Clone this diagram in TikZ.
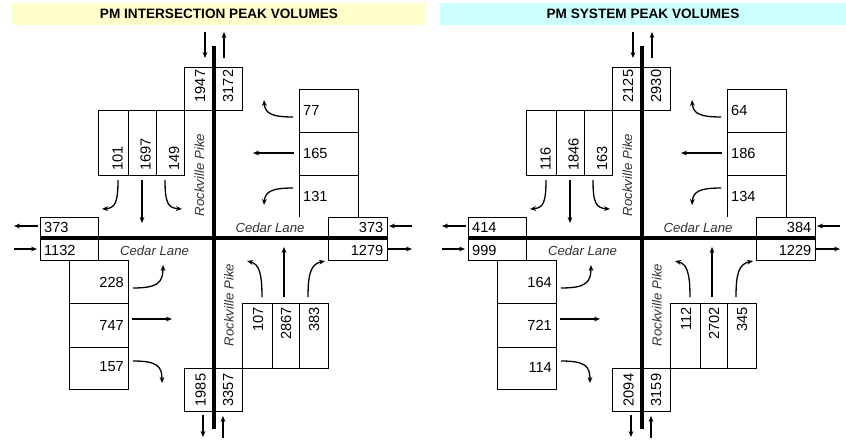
\documentclass[tikz,border=0pt]{standalone}
\usepackage{fontspec}
\setmainfont{Liberation Sans}
\usetikzlibrary{arrows.meta}
\definecolor{titleyellow}{RGB}{255,255,204}
\definecolor{titlecyan}{RGB}{204,255,255}
\tikzset{
  road/.style={line width=3.4pt},
  box/.style={line width=0.9pt},
  flow/.style={line width=1.3pt,-{Stealth[length=6pt,width=4.8pt]}},
  num/.style={inner sep=0pt,font=\fontsize{14.6}{14.6}\selectfont},
  vnum/.style={num,rotate=90},
  street/.style={inner sep=0pt,font=\fontsize{13.2}{13.2}\selectfont\itshape,text=black!80},
  ttl/.style={inner sep=0pt,font=\fontsize{13.6}{13.6}\selectfont\bfseries}
}
\newcommand\intpanel{%
  % roads
  \coordinate (rN) at (214,46); \coordinate (rS) at (214,429);
  \coordinate (rW) at (40,238); \coordinate (rE) at (387,238);
  \draw[road] (rN) -- (rS);
  \draw[road] (rW) -- (rE);
  % north leg totals
  \draw[box] (184,110) rectangle (242,67);
  \node[vnum] (nIn) at (200,86) {\vNin};
  \node[vnum] (nOut) at (228,86) {\vNout};
  \coordinate (a1) at (205,32); \coordinate (a2) at (205,58);
  \coordinate (a3) at (224,58); \coordinate (a4) at (224,32);
  \draw[flow] (a1) -- (a2);
  \draw[flow] (a3) -- (a4);
  % southbound lanes
  \draw[box] (98,110) rectangle (184,175);
  \draw[box] (128,110) -- (128,175) (156,110) -- (156,175);
  \node[vnum,anchor=west] (sbL) at (117.5,171) {\vSBL};
  \node[vnum,anchor=west] (sbT) at (145.5,171) {\vSBT};
  \node[vnum,anchor=west] (sbR) at (174,171) {\vSBR};
  \coordinate (b1) at (118,180); \coordinate (b2) at (102,209);
  \draw[flow] (b1) .. controls (118,203) and (115,208) .. (b2);
  \coordinate (b3) at (142,180); \coordinate (b4) at (142,223);
  \draw[flow] (b3) -- (b4);
  \coordinate (b5) at (165,180); \coordinate (b6) at (182,209);
  \draw[flow] (b5) .. controls (165,203) and (168,208) .. (b6);
  % westbound lanes
  \draw[box] (299,217) -- (299,89) -- (358,89) -- (358,217);
  \draw[box] (299,132) -- (358,132) (299,175) -- (358,175);
  \node[num,anchor=west] (wbR) at (303,110) {\vWBR};
  \node[num,anchor=west] (wbT) at (303,153) {\vWBT};
  \node[num,anchor=west] (wbL) at (303,196) {\vWBL};
  \coordinate (c1) at (293,117); \coordinate (c2) at (264,100);
  \draw[flow] (c1) .. controls (271,117) and (265,113) .. (c2);
  \coordinate (c3) at (294,153); \coordinate (c4) at (253,153);
  \draw[flow] (c3) -- (c4);
  \coordinate (c5) at (293,188); \coordinate (c6) at (264,205);
  \draw[flow] (c5) .. controls (271,188) and (265,192) .. (c6);
  % east leg totals
  \draw[box] (328,238) -- (328,217) -- (387,217) -- (387,260) -- (328,260) -- (328,238);
  \node[num,anchor=east] (eOut) at (383.5,227) {\vEout};
  \node[num,anchor=east] (eIn) at (383.5,250) {\vEin};
  \coordinate (d1) at (412,226); \coordinate (d2) at (389,226);
  \draw[flow] (d1) -- (d2);
  \coordinate (d3) at (388,249); \coordinate (d4) at (412,249);
  \draw[flow] (d3) -- (d4);
  % west leg totals
  \draw[box] (98,238) -- (98,217) -- (40,217) -- (40,260) -- (98,260) -- (98,238);
  \node[num,anchor=west] (wOut) at (44,227) {\vWout};
  \node[num,anchor=west] (wIn) at (44,250) {\vWin};
  \coordinate (e1) at (38,226); \coordinate (e2) at (14,226);
  \draw[flow] (e1) -- (e2);
  \coordinate (e3) at (14,249); \coordinate (e4) at (37,249);
  \draw[flow] (e3) -- (e4);
  % eastbound lanes
  \draw[box] (69,260) rectangle (128,389);
  \draw[box] (69,303) -- (128,303) (69,347) -- (128,347);
  \node[num,anchor=east] (ebL) at (124,282) {\vEBL};
  \node[num,anchor=east] (ebT) at (124,325) {\vEBT};
  \node[num,anchor=east] (ebR) at (124,367) {\vEBR};
  \coordinate (f1) at (133,288); \coordinate (f2) at (163,265);
  \draw[flow] (f1) .. controls (157,288) and (163,283) .. (f2);
  \coordinate (f3) at (132,319); \coordinate (f4) at (172,319);
  \draw[flow] (f3) -- (f4);
  \coordinate (f5) at (133,361); \coordinate (f6) at (162,383);
  \draw[flow] (f5) .. controls (157,361) and (162,366) .. (f6);
  % northbound lanes
  \draw[box] (242,303) rectangle (328,368);
  \draw[box] (272,303) -- (272,368) (299,303) -- (299,368);
  \node[vnum,anchor=east] (nbL) at (258,307) {\vNBL};
  \node[vnum,anchor=east] (nbT) at (286,307) {\vNBT};
  \node[vnum,anchor=east] (nbR) at (314,307) {\vNBR};
  \coordinate (g1) at (262,297); \coordinate (g2) at (247,261);
  \draw[flow] (g1) .. controls (262,273) and (259,264) .. (g2);
  \coordinate (g3) at (284,297); \coordinate (g4) at (284,247);
  \draw[flow] (g3) -- (g4);
  \coordinate (g5) at (308,297); \coordinate (g6) at (325,261);
  \draw[flow] (g5) .. controls (308,273) and (311,264) .. (g6);
  % south leg totals
  \draw[box] (184,368) rectangle (242,411);
  \node[vnum] (sOut) at (200.5,390) {\vSout};
  \node[vnum] (sIn) at (228,390) {\vSin};
  \coordinate (h1) at (203,415); \coordinate (h2) at (203,437);
  \draw[flow] (h1) -- (h2);
  \coordinate (h3) at (223,438); \coordinate (h4) at (223,416);
  \draw[flow] (h3) -- (h4);
  % street names
  \node[street] (cl1) at (270,227.5) {Cedar Lane};
  \node[street] (cl2) at (154.5,250.5) {Cedar Lane};
  \node[street,rotate=90] (rp1) at (199.5,175) {Rockville Pike};
  \node[street,rotate=90] (rp2) at (229,305) {Rockville Pike};
}
\begin{document}
\begin{tikzpicture}[x=1pt,y=-1pt]
\useasboundingbox (0,0) rectangle (846,442);
\fill[titleyellow] (12,3) rectangle (426,25);
\fill[titlecyan] (440,3) rectangle (846,25);
\node[ttl] (t1) at (219,14) {PM INTERSECTION PEAK VOLUMES};
\node[ttl] (t2) at (643,14) {PM SYSTEM PEAK VOLUMES};
\begin{scope}
\def\vNin{1947}\def\vNout{3172}
\def\vSBL{101}\def\vSBT{1697}\def\vSBR{149}
\def\vWBR{77}\def\vWBT{165}\def\vWBL{131}
\def\vEout{373}\def\vEin{1279}
\def\vWout{373}\def\vWin{1132}
\def\vEBL{228}\def\vEBT{747}\def\vEBR{157}
\def\vNBL{107}\def\vNBT{2867}\def\vNBR{383}
\def\vSout{1985}\def\vSin{3357}
\intpanel
\end{scope}
\begin{scope}[xshift=428pt]
\def\vNin{2125}\def\vNout{2930}
\def\vSBL{116}\def\vSBT{1846}\def\vSBR{163}
\def\vWBR{64}\def\vWBT{186}\def\vWBL{134}
\def\vEout{384}\def\vEin{1229}
\def\vWout{414}\def\vWin{999}
\def\vEBL{164}\def\vEBT{721}\def\vEBR{114}
\def\vNBL{112}\def\vNBT{2702}\def\vNBR{345}
\def\vSout{2094}\def\vSin{3159}
\intpanel
\end{scope}
\end{tikzpicture}
\end{document}
